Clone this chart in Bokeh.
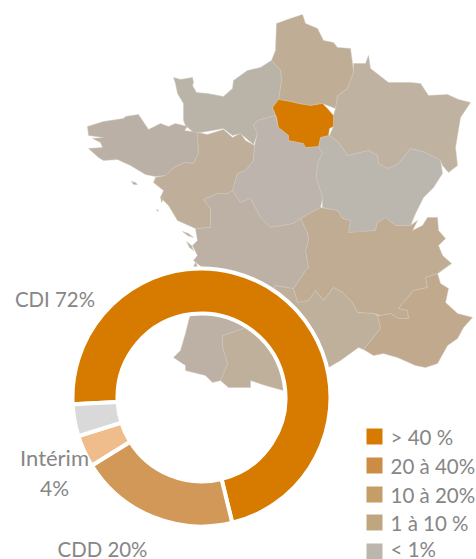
from math import pi
from bokeh.plotting import figure, ColumnDataSource
from bokeh.models import Range1d
from bokeh.core.properties import value
from bokeh.embed import file_html
from bokeh.resources import INLINE

# Map regions (x, y in picture pixels)
hauts_de_france = [(302,14),(305,23),(317,28),(323,40),(333,42),(337,47),(350,48),(352,63),(353,72),(347,88),(337,95),(335,108),(322,103),(310,105),(298,103),(290,101),(278,99),(281,80),(280,70),(271,60),(275,50),(276,23),(290,18)]
normandie = [(173,77),(180,79),(192,77),(193,82),(192,85),(196,92),(207,93),(223,96),(232,88),(233,80),(247,70),(260,67),(271,60),(280,70),(281,80),(278,99),(272,107),(275,115),(257,120),(253,125),(257,133),(253,144),(240,133),(232,135),(223,128),(200,132),(193,132),(185,125),(183,120),(183,103),(177,93),(175,83)]
bretagne = [(87,126),(103,121),(123,118),(125,116),(138,114),(148,129),(160,123),(168,126),(175,123),(187,126),(184,130),(197,132),(198,153),(193,163),(185,162),(173,167),(165,175),(155,176),(145,174),(130,165),(117,159),(103,160),(98,157),(88,148),(102,147),(100,142),(92,138),(103,137),(88,135)]
pays_de_la_loire = [(197,132),(207,134),(223,129),(232,137),(240,133),(245,140),(254,145),(253,160),(245,170),(237,173),(232,190),(227,193),(217,193),(203,199),(210,208),(210,227),(195,228),(177,220),(168,205),(160,197),(163,190),(153,182),(155,177),(165,175),(173,167),(185,162),(193,163),(198,153)]
centre = [(275,115),(278,127),(288,135),(288,140),(303,143),(305,147),(318,146),(322,153),(317,163),(316,177),(322,197),(320,207),(300,218),(293,223),(270,227),(260,217),(250,198),(240,202),(232,190),(237,173),(245,170),(253,160),(254,145),(257,133),(253,125),(257,120)]
ile_de_france = [(278,99),(290,101),(298,103),(310,105),(322,103),(327,108),(333,115),(333,126),(329,128),(328,135),(320,137),(318,146),(305,147),(303,143),(288,140),(288,135),(278,127),(276,117),(272,107)]
grand_est = [(368,55),(370,68),(388,82),(410,82),(420,83),(428,95),(447,94),(458,99),(470,102),(460,117),(455,147),(457,165),(448,172),(442,165),(440,160),(425,152),(410,148),(398,163),(388,168),(378,163),(377,155),(368,150),(347,155),(338,142),(329,135),(333,126),(333,115),(335,108),(337,95),(347,88),(353,72),(353,63),(365,63)]
bourgogne_fc = [(329,135),(338,142),(347,155),(368,150),(377,155),(378,163),(388,168),(398,163),(410,148),(425,152),(440,160),(442,173),(433,187),(423,197),(415,213),(410,225),(395,225),(385,217),(377,222),(375,230),(355,232),(348,232),(350,220),(342,218),(337,210),(322,207),(322,197),(316,177),(317,163),(322,153),(318,146),(320,137)]
auvergne_ra = [(300,218),(320,207),(337,210),(342,218),(350,220),(348,232),(375,230),(377,222),(385,217),(395,225),(410,225),(417,220),(412,230),(422,225),(427,217),(437,217),(438,230),(445,238),(438,245),(442,255),(451,263),(448,265),(437,273),(425,277),(427,287),(413,290),(403,302),(398,308),(407,310),(408,318),(398,318),(390,313),(380,315),(373,313),(357,312),(352,302),(342,292),(333,287),(323,300),(315,290),(308,300),(297,302),(293,288),(305,270),(308,267),(305,250),(308,240),(307,232)]
paca = [(451,263),(448,265),(437,273),(440,283),(448,288),(445,302),(457,313),(472,317),(463,327),(457,338),(447,345),(437,363),(425,367),(415,365),(397,357),(383,353),(373,355),(363,349),(380,328),(377,315),(380,315),(390,313),(398,318),(408,318),(407,310),(398,308),(403,302),(413,290),(427,287),(425,277),(437,273)]
occitanie = [(293,288),(297,302),(308,300),(315,290),(323,300),(333,287),(342,292),(352,302),(357,312),(373,313),(377,315),(380,328),(363,349),(358,347),(340,360),(328,367),(310,385),(283,390),(265,385),(250,380),(250,387),(228,387),(220,380),(227,363),(222,347),(222,335),(243,328),(275,285)]
nouvelle_aquitaine = [(195,228),(210,227),(210,208),(203,199),(217,193),(227,193),(232,190),(240,202),(250,198),(260,217),(270,227),(293,223),(300,218),(307,232),(308,240),(305,250),(308,267),(305,270),(293,288),(275,285),(243,328),(222,335),(222,347),(227,363),(220,380),(212,382),(205,375),(185,370),(185,365),(173,357),(180,350),(185,333),(189,317),(196,300),(203,268),(193,260),(197,255),(192,245),(197,240)]
isle_belle = [(131,181),(135,182),(137,184),(133,184)]
isle_yeu = [(156,209),(158,210),(157,211)]
isle_noirmoutier = [(160,196),(163,198),(161,202)]
isle_re = [(182,231),(188,233),(193,237),(187,235)]
isle_oleron = [(186,241),(191,245),(193,250),(189,247)]
isle_gironde = [(193,266),(195,262),(197,266)]
regions = [hauts_de_france, normandie, bretagne, pays_de_la_loire, centre, grand_est, bourgogne_fc,
           auvergne_ra, paca, occitanie, nouvelle_aquitaine, ile_de_france,
           isle_belle, isle_yeu, isle_noirmoutier, isle_re, isle_oleron, isle_gironde]
region_colors = ["#BFAD95", "#BAB3A8", "#BBB0A5", "#BFAE99", "#BDB5AD", "#BFB2A1", "#BBB7AF",
                 "#BFAC92", "#C0A98D", "#BFB09C", "#BCB1A4", "#D67A00",
                 "#BBB0A5", "#BFAE99", "#BFAE99", "#BCB1A4", "#BCB1A4", "#BCB1A4"]

# Donut
contract_labels = ["CDI", "CDD", "Intérim", "Autre"]
contract_values = [72, 20, 4, 4]
contract_colors = ["#D67A00", "#D29858", "#EFBC8C", "#D9D9D9"]

# Legend
legend_labels = ["> 40 %", "20 à 40%", "10 à 20%", "1 à 10 %", "< 1%"]
legend_colors = ["#D67A00", "#CC8C43", "#C59D66", "#C0A67F", "#BBB7AF"]

GRAY = "#868686"
FONT = value("Lato")

p = figure(width=476, height=559, x_range=Range1d(0, 476), y_range=Range1d(559, 0),
           output_backend="svg", toolbar_location=None, min_border=0)
p.axis.visible = False
p.grid.visible = False
p.outline_line_color = None
p.background_fill_color = "white"

p.patches([[pt[0] for pt in r] for r in regions], [[pt[1] for pt in r] for r in regions],
          fill_color=region_colors, line_color="#CDC6BA", line_width=0.5)

# donut: clockwise from a start a little below 9 o'clock
ROT = -177.0
total = sum(contract_values)
starts, ends = [], []
a = ROT
for v in contract_values:
    starts.append(a * pi / 180)
    a -= v / total * 360
    ends.append(a * pi / 180)
src = ColumnDataSource(dict(s=starts, e=ends, c=contract_colors))
p.annular_wedge(x=201, y=397, inner_radius=84, outer_radius=129, start_angle="s", end_angle="e",
                direction="clock", fill_color="c", line_color="white", line_width=4, source=src)

# labels
p.text(x=[54.5, 102], y=[298, 548], text=[f"CDI {contract_values[0]}%", f"CDD {contract_values[1]}%"],
       text_font=FONT, text_font_size="20.4px", text_color=GRAY, text_align="center", text_baseline="middle")
p.text(x=[54], y=[457], text=["Intérim"],
       text_font=FONT, text_font_size="22px", text_color=GRAY, text_align="center", text_baseline="middle")
p.text(x=[54], y=[487], text=[f"{contract_values[2]}%"],
       text_font=FONT, text_font_size="21px", text_color=GRAY, text_align="center", text_baseline="middle")

# legend
ly = [436, 465, 494, 522, 551]
text_ly = [436, 465, 494, 522, 548]
p.quad(left=366, right=382, top=[y - 8 for y in ly], bottom=[y + 8 for y in ly],
       fill_color=legend_colors, line_color=None)
p.text(x=390, y=text_ly, text=legend_labels, text_font=FONT, text_font_size="20.5px", text_color=GRAY,
       text_align="left", text_baseline="middle")

open("out.html", "w").write(file_html(p, INLINE))
